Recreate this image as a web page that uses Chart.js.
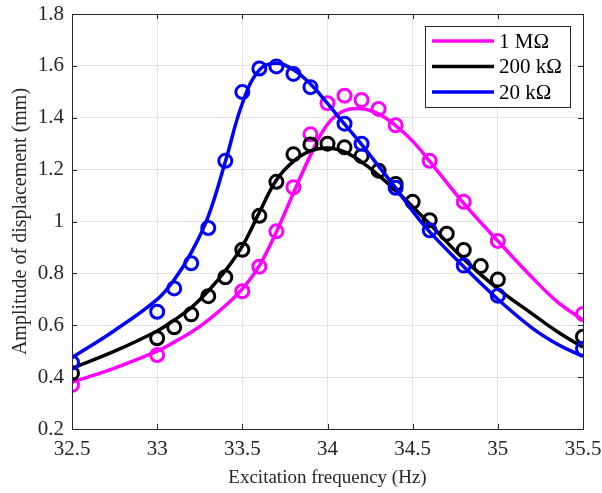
<!DOCTYPE html>
<html>
<head>
<meta charset="utf-8">
<script src="https://cdn.jsdelivr.net/npm/chart.js@4.4.1/dist/chart.umd.min.js"></script>
<style>
  html, body { margin: 0; padding: 0; background: #fff; }
  #wrap { width: 602px; height: 493px; }
</style>
</head>
<body>
<div id="wrap"><canvas id="c"></canvas></div>
<script>
// fitted curves
const fitFreq = [32.5, 32.75, 33.0, 33.1, 33.2, 33.3, 33.4, 33.5, 33.6, 33.7, 33.8, 33.9, 34.0, 34.1, 34.2, 34.3, 34.4, 34.5, 34.6, 34.8, 35.0, 35.2, 35.35, 35.5];
const fit1M   = [0.38, 0.435, 0.50, 0.535, 0.573, 0.62, 0.675, 0.74, 0.83, 0.96, 1.11, 1.255, 1.375, 1.428, 1.435, 1.415, 1.37, 1.31, 1.232, 1.07, 0.925, 0.785, 0.69, 0.62];
const fit200k = [0.434, 0.50, 0.578, 0.62, 0.668, 0.732, 0.81, 0.905, 1.035, 1.16, 1.232, 1.272, 1.283, 1.268, 1.23, 1.178, 1.12, 1.057, 0.99, 0.855, 0.74, 0.645, 0.575, 0.515];
const fit20k  = [0.475, 0.58, 0.70, 0.775, 0.88, 1.02, 1.23, 1.455, 1.585, 1.61, 1.585, 1.53, 1.455, 1.375, 1.297, 1.213, 1.13, 1.04, 0.96, 0.826, 0.70, 0.59, 0.527, 0.48];

// measured points
const freq1M = [32.5, 33.0, 33.5, 33.6, 33.7, 33.8, 33.9, 34.0, 34.1, 34.2, 34.3, 34.4, 34.6, 34.8, 35.0, 35.5];
const meas1M = [0.37, 0.485, 0.731, 0.826, 0.962, 1.132, 1.336, 1.456, 1.485, 1.468, 1.434, 1.371, 1.234, 1.076, 0.925, 0.643];

const freq200k = [32.5, 33.0, 33.1, 33.2, 33.3, 33.4, 33.5, 33.6, 33.7, 33.8, 33.9, 34.0, 34.1, 34.2, 34.3, 34.4, 34.5, 34.6, 34.7, 34.8, 34.9, 35.0, 35.5];
const meas200k = [0.415, 0.55, 0.592, 0.642, 0.712, 0.785, 0.891, 1.022, 1.153, 1.259, 1.297, 1.30, 1.286, 1.252, 1.196, 1.145, 1.076, 1.005, 0.953, 0.89, 0.828, 0.776, 0.556];

const freq20k = [32.5, 33.0, 33.1, 33.2, 33.3, 33.4, 33.5, 33.6, 33.7, 33.8, 33.9, 34.1, 34.2, 34.4, 34.6, 34.8, 35.0, 35.5];
const meas20k = [0.456, 0.652, 0.742, 0.839, 0.975, 1.234, 1.499, 1.59, 1.598, 1.569, 1.518, 1.377, 1.30, 1.13, 0.966, 0.83, 0.714, 0.509];

const xTicks = [32.5, 33, 33.5, 34, 34.5, 35, 35.5];
const yTicks = [0.2, 0.4, 0.6, 0.8, 1, 1.2, 1.4, 1.6, 1.8];

const colors = { m1: '#FF00FF', k200: '#000000', k20: '#0000FF' };
const serif = "'Liberation Serif', 'Times New Roman', serif";

const pts = (xs, ys) => xs.map((x, i) => ({ x, y: ys[i] }));

function fitSet(label, xs, ys, c, order) {
  return {
    label, data: pts(xs, ys), showLine: true, borderColor: c, backgroundColor: c,
    borderWidth: 3.5, pointRadius: 0, tension: 0.4, order, isFit: true
  };
}
function markSet(label, xs, ys, c, order) {
  return {
    label, data: pts(xs, ys), showLine: false, borderColor: c, backgroundColor: 'rgba(0,0,0,0)',
    pointRadius: 6.5, pointBorderWidth: 3, pointStyle: 'circle', order, isFit: false
  };
}

// box, inward ticks and the legend, MATLAB style
const axesDecor = {
  id: 'axesDecor',
  afterDraw(chart) {
    const { ctx, chartArea: a, scales: { x, y } } = chart;
    ctx.save();
    ctx.strokeStyle = '#262626';
    ctx.lineWidth = 1;
    ctx.strokeRect(a.left + 0.5, a.top + 0.5, a.right - a.left, a.bottom - a.top);
    ctx.beginPath();
    const tl = 5;
    xTicks.forEach(v => {
      const px = Math.round(x.getPixelForValue(v)) + 0.5;
      ctx.moveTo(px, a.bottom); ctx.lineTo(px, a.bottom - tl);
      ctx.moveTo(px, a.top); ctx.lineTo(px, a.top + tl);
    });
    yTicks.forEach(v => {
      const py = Math.round(y.getPixelForValue(v)) + 0.5;
      ctx.moveTo(a.left, py); ctx.lineTo(a.left + tl, py);
      ctx.moveTo(a.right, py); ctx.lineTo(a.right - tl, py);
    });
    ctx.stroke();

    // legend
    const fits = chart.data.datasets.filter(d => d.isFit);
    const bx = a.right - 158, by = a.top + 12, bw = 145, bh = 81;
    ctx.fillStyle = '#fff';
    ctx.fillRect(bx, by, bw, bh);
    ctx.strokeStyle = '#262626';
    ctx.strokeRect(bx + 0.5, by + 0.5, bw, bh);
    ctx.font = '21px ' + serif;
    ctx.textBaseline = 'middle';
    ctx.textAlign = 'left';
    fits.forEach((d, i) => {
      const ly = by + 15 + i * 25.5;
      ctx.strokeStyle = d.borderColor;
      ctx.lineWidth = 3.5;
      ctx.beginPath();
      ctx.moveTo(bx + 7, ly); ctx.lineTo(bx + 69, ly);
      ctx.stroke();
      ctx.fillStyle = '#000';
      ctx.fillText(d.label, bx + 74, ly + 1);
    });
    ctx.restore();
  }
};

new Chart(document.getElementById('c'), {
  type: 'scatter',
  data: {
    datasets: [
      fitSet('1 MΩ', fitFreq, fit1M, colors.m1, 6),
      markSet('1 MΩ data', freq1M, meas1M, colors.m1, 5),
      fitSet('200 kΩ', fitFreq, fit200k, colors.k200, 4),
      markSet('200 kΩ data', freq200k, meas200k, colors.k200, 3),
      fitSet('20 kΩ', fitFreq, fit20k, colors.k20, 2),
      markSet('20 kΩ data', freq20k, meas20k, colors.k20, 1)
    ]
  },
  options: {
    responsive: true, maintainAspectRatio: false, animation: false,
    layout: { padding: { top: 14, right: 19, left: 0, bottom: 0 } },
    plugins: { legend: { display: false }, tooltip: { enabled: false } },
    scales: {
      x: {
        type: 'linear', min: 32.5, max: 35.5,
        afterBuildTicks: s => { s.ticks = xTicks.map(v => ({ value: v })); },
        afterFit: s => { s.height = 64; s.paddingLeft = 0; s.paddingRight = 0; },
        grid: { color: '#e3e3e3', drawTicks: false },
        border: { color: '#262626' },
        ticks: { padding: 8, color: '#262626', font: { family: serif, size: 21 }, autoSkip: false, maxRotation: 0, callback: v => String(v) },
        title: { display: true, text: 'Excitation frequency (Hz)', color: '#262626', font: { family: serif, size: 19 }, padding: { top: 0, bottom: 4 } }
      },
      y: {
        type: 'linear', min: 0.2, max: 1.8,
        afterBuildTicks: s => { s.ticks = yTicks.map(v => ({ value: v })); },
        afterFit: s => { s.width = 72; s.paddingTop = 0; s.paddingBottom = 0; },
        grid: { color: '#e3e3e3', drawTicks: false },
        border: { color: '#262626' },
        ticks: { padding: 8, color: '#262626', font: { family: serif, size: 21 }, callback: v => String(v) },
        title: { display: true, text: 'Amplitude of displacement (mm)', color: '#262626', font: { family: serif, size: 20 }, padding: { top: 9, bottom: 0 } }
      }
    }
  },
  plugins: [axesDecor]
});
</script>
</body>
</html>
